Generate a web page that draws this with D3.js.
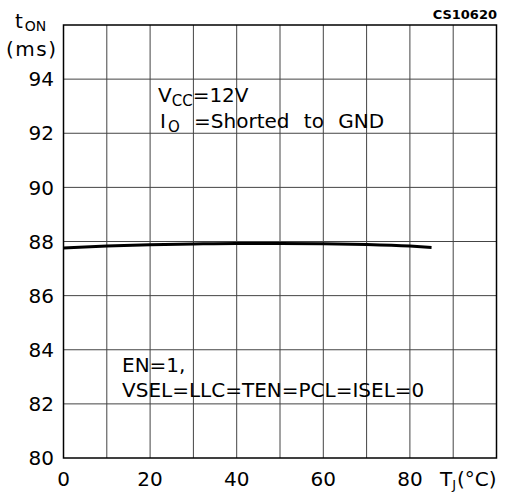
<!DOCTYPE html>
<html>
<head>
<meta charset="utf-8">
<script src="https://cdn.jsdelivr.net/npm/d3@7"></script>
<style>
body { margin: 0; background: #fff; }
text { font-family: "DejaVu Sans", sans-serif; fill: #000; }
</style>
</head>
<body>
<div id="chart"></div>
<script>
// junction temperature (°C) and turn-on time (ms)
var temps = [0, 10, 20, 30, 40, 50, 60, 70, 80, 85];
var tOn = [87.76, 87.83, 87.88, 87.91, 87.93, 87.93, 87.92, 87.89, 87.83, 87.78];
var xTicks = [0, 20, 40, 60, 80];
var yTicks = [80, 82, 84, 86, 88, 90, 92, 94];

var W = 511, H = 493;
var pLeft = 63.5, pRight = 496.5, pTop = 25, pBottom = 458;

var svg = d3.select("#chart").append("svg")
    .attr("width", W).attr("height", H);

var x = d3.scaleLinear().domain([0, 100]).range([pLeft, pRight]);
var y = d3.scaleLinear().domain([80, 96]).range([pBottom, pTop]);

// grid
svg.append("g").selectAll("line")
    .data(d3.range(10, 100, 10))
    .enter().append("line")
    .attr("x1", function(d) { return x(d); })
    .attr("x2", function(d) { return x(d); })
    .attr("y1", pTop).attr("y2", pBottom)
    .style("stroke", "#444").style("stroke-width", 1);

svg.append("g").selectAll("line")
    .data(d3.range(82, 96, 2))
    .enter().append("line")
    .attr("y1", function(d) { return y(d); })
    .attr("y2", function(d) { return y(d); })
    .attr("x1", pLeft).attr("x2", pRight)
    .style("stroke", "#444").style("stroke-width", 1);

svg.append("rect")
    .attr("x", pLeft).attr("y", pTop)
    .attr("width", pRight - pLeft).attr("height", pBottom - pTop)
    .style("fill", "none").style("stroke", "#000").style("stroke-width", 1.5);

// axis labels
svg.append("g").selectAll("text")
    .data(yTicks)
    .enter().append("text")
    .attr("x", 54)
    .attr("y", function(d) { return y(d); })
    .attr("dy", "0.36em")
    .attr("text-anchor", "end")
    .style("font-size", "20px")
    .text(function(d) { return d; });

svg.append("g").selectAll("text")
    .data(xTicks)
    .enter().append("text")
    .attr("x", function(d) { return x(d); })
    .attr("y", 486)
    .attr("text-anchor", "middle")
    .style("font-size", "20px")
    .text(function(d) { return d; });

var tj = svg.append("text").attr("x", 440).attr("y", 486).style("font-size", "20px");
tj.append("tspan").text("T");
tj.append("tspan").attr("dy", 3).style("font-size", "13px").text("J");
tj.append("tspan").attr("dy", -3).attr("dx", 1).text("(°C)");

var ton = svg.append("text").attr("x", 15).attr("y", 28).style("font-size", "20px");
ton.append("tspan").text("t");
ton.append("tspan").attr("dy", 3).attr("dx", 2).style("font-size", "14px").text("ON");
svg.append("text").attr("x", 6).attr("y", 56)
    .style("font-size", "20px").style("letter-spacing", "1.5px").text("(ms)");

svg.append("text").attr("x", 497).attr("y", 19)
    .attr("text-anchor", "end")
    .style("font-size", "13px").style("font-weight", "bold")
    .text("CS10620");

// condition notes
var v = svg.append("text").attr("x", 158).attr("y", 102).style("font-size", "20px");
v.append("tspan").text("V");
v.append("tspan").attr("dy", 4).style("font-size", "15px").text("CC");
v.append("tspan").attr("dy", -4).text("=12V");

var io = svg.append("text").attr("x", 160).attr("y", 128)
    .style("font-size", "20px").style("word-spacing", "8px");
io.append("tspan").text("I");
io.append("tspan").attr("dy", 4).attr("dx", 2).style("font-size", "15px").text("O");
io.append("tspan").attr("dy", -4).text(" =Shorted to GND");

svg.append("text").attr("x", 122).attr("y", 372).style("font-size", "20px").text("EN=1,");
svg.append("text").attr("x", 122).attr("y", 397).style("font-size", "20px").text("VSEL=LLC=TEN=PCL=ISEL=0");

// curve
var line = d3.line()
    .x(function(d, i) { return x(temps[i]); })
    .y(function(d) { return y(d); })
    .curve(d3.curveMonotoneX);

svg.append("path")
    .datum(tOn)
    .attr("d", line)
    .style("fill", "none").style("stroke", "#000").style("stroke-width", 3);
</script>
</body>
</html>
